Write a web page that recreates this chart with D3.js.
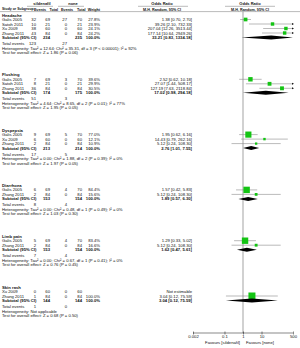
<!DOCTYPE html>
<html>
<head>
<meta charset="utf-8">
<script src="https://cdnjs.cloudflare.com/ajax/libs/d3/7.8.5/d3.min.js"></script>
<style>
  body { margin: 0; background: #fff; }
  text { font-family: "Liberation Sans", Arial, sans-serif; fill: #111; }
</style>
</head>
<body>
<div id="forest"></div>
<script>
// subgroups
const groupNames = ["Headache", "Flushing", "Dyspepsia", "Diarrhoea", "Limb pain", "Skin rash"];

// studies (index into groupNames)
const studyGroup = [0, 0, 0, 0, 1, 1, 1, 2, 2, 2, 3, 3, 4, 4, 5, 5];
const studyName = ["Galis 2005", "Satoh 2011", "Xu 2009", "Zhang 2011",
                   "Galis 2005", "Satoh 2011", "Zhang 2011",
                   "Galis 2005", "Xu 2009", "Zhang 2011",
                   "Galis 2005", "Zhang 2011",
                   "Galis 2005", "Zhang 2011",
                   "Xu 2009", "Zhang 2011"];
const silEvents  = [32, 10, 38, 43,  7, 8, 36,  9, 6, 2,  6, 2,  5, 2,  0, 1];
const silTotal   = [69, 21, 60, 84,  69, 21, 84,  69, 60, 84,  69, 84,  69, 84,  60, 84];
const noneEvents = [27, 0, 0, 0,  3, 0, 0,  5, 0, 0,  4, 0,  4, 0,  0, 0];
const noneTotal  = [70, 21, 60, 84,  70, 21, 84,  70, 60, 84,  70, 84,  70, 84,  60, 84];
const weights    = [27.8, 23.9, 24.1, 24.2,  39.6, 29.9, 30.5,  77.0, 12.1, 10.9,  84.4, 15.6,  83.4, 16.6,  null, 100.0];
const orVal = [1.38, 39.26, 207.04, 177.14,  2.52, 27.07, 127.19,  1.95, 14.43, 5.12,  1.57, 5.12,  1.29, 5.12,  null, 3.04];
const orLo  = [0.70, 2.10, 12.26, 10.64,  0.62, 1.44, 7.63,  0.62, 0.79, 0.24,  0.42, 0.24,  0.33, 0.24,  null, 0.12];
const orHi  = [2.70, 732.33, 3513.44, 2949.26,  10.18, 508.17, 2118.84,  6.16, 262.16, 108.30,  5.83, 108.30,  5.02, 108.30,  null, 75.59];

// subgroup totals
const subSilTotal   = [234, 174, 213, 153, 153, 144];
const subNoneTotal  = [235, 175, 214, 154, 154, 144];
const subOr  = [33.21, 17.02, 2.76, 1.89, 1.62, 3.04];
const subLo  = [0.83, 0.98, 1.01, 0.57, 0.47, 0.12];
const subHi  = [1334.18, 294.18, 7.55, 6.30, 5.61, 75.59];
const totSilEvents  = [123, 51, 17, 8, 7, 1];
const totNoneEvents = [27, 3, 5, 4, 4, 0];
const hetText = [
  "Heterogeneity: Tau² = 12.64; Chi² = 35.31, df = 3 (P < 0.00001); I² = 92%",
  "Heterogeneity: Tau² = 4.64; Chi² = 8.65, df = 2 (P = 0.01); I² = 77%",
  "Heterogeneity: Tau² = 0.00; Chi² = 1.88, df = 2 (P = 0.39); I² = 0%",
  "Heterogeneity: Tau² = 0.00; Chi² = 0.48, df = 1 (P = 0.49); I² = 0%",
  "Heterogeneity: Tau² = 0.00; Chi² = 0.67, df = 1 (P = 0.41); I² = 0%",
  "Heterogeneity: Not applicable"];
const testText = [
  "Test for overall effect: Z = 1.86 (P = 0.06)",
  "Test for overall effect: Z = 1.95 (P = 0.05)",
  "Test for overall effect: Z = 1.97 (P = 0.05)",
  "Test for overall effect: Z = 1.03 (P = 0.30)",
  "Test for overall effect: Z = 0.76 (P = 0.45)",
  "Test for overall effect: Z = 0.68 (P = 0.50)"];

// axis
const axisTicks = [0.002, 0.1, 1, 10, 500];
const axisTickLabels = ["0.002", "0.1", "1", "10", "500"];

function main() {
    const width = 300, height = 348;
    const fs = 4.2;          // font size
    const L = 4.5;           // row step
    const gapTot = 1.5;      // extra gap before "Total events"
    const gapGroup = 22.3;   // blank after each subgroup
    const firstY = 15;
    const axisY = 333;

    const fmt = d3.format(".2f");

    const svg = d3.select("#forest")
        .append("svg")
        .attr("width", width)
        .attr("height", height)
        .style("display", "block");

    svg.append("rect").attr("width", width).attr("height", height).attr("fill", "#fff");

    // columns (right edges unless noted)
    const col = {name: 2, e1: 36, n1: 50, e2: 67, n2: 82, w: 100, ci: 192};

    const xScale = d3.scaleLog()
        .domain([0.002, 500])
        .range([193, 293]);

    function txt(x, y, s, anchor, bold, size) {
        return svg.append("text")
            .attr("x", x)
            .attr("y", y + (size || fs) * 0.36)
            .attr("text-anchor", anchor || "start")
            .attr("font-size", size || fs)
            .attr("font-weight", bold ? "bold" : "normal")
            .text(s);
    }

    // header
    const hs = 4.0;
    txt(42, 3.5, "sildenafil", "middle", true, hs);
    txt(73, 3.5, "none", "middle", true, hs);
    txt(162, 3.5, "Odds Ratio", "middle", true, hs);
    txt(250, 3.5, "Odds Ratio", "middle", true, hs);
    txt(col.name, 9.2, "Study or Subgroup", "start", true, 3.5);
    txt(46, 9.2, "Events", "end", true, 3.7);
    txt(58, 9.2, "Total", "end", true, 3.7);
    txt(73, 9.2, "Events", "end", true, 3.7);
    txt(85.5, 9.2, "Total", "end", true, 3.7);
    txt(col.w, 9.2, "Weight", "end", true, 3.7);
    txt(162, 9.2, "M-H, Random, 95% CI", "middle", true, 3.7);
    txt(250, 9.2, "M-H, Random, 95% CI", "middle", true, 3.7);

    const hdrLines = [[27, 53, 6.3], [58, 84, 6.3], [138, 188, 6.3], [225, 275, 6.3], [0, 300, 11.6]];
    hdrLines.forEach(function(l) {
        svg.append("line")
            .attr("x1", l[0]).attr("x2", l[1])
            .attr("y1", l[2]).attr("y2", l[2])
            .attr("stroke", "#777").attr("stroke-width", 0.5);
    });

    // line of no effect
    svg.append("line")
        .attr("x1", xScale(1)).attr("x2", xScale(1))
        .attr("y1", 11.6).attr("y2", axisY)
        .attr("stroke", "#666").attr("stroke-width", 0.6);

    const [xmin, xmax] = xScale.range();

    let y = firstY;
    groupNames.forEach(function(g, gi) {
        txt(col.name, y, g, "start", true);

        const idx = d3.range(studyName.length).filter(i => studyGroup[i] === gi);
        idx.forEach(function(i) {
            y += L;
            txt(col.name, y, studyName[i]);
            txt(col.e1, y, silEvents[i], "end");
            txt(col.n1, y, silTotal[i], "end");
            txt(col.e2, y, noneEvents[i], "end");
            txt(col.n2, y, noneTotal[i], "end");
            if (weights[i] === null) {
                txt(col.ci, y, "Not estimable", "end");
                return;
            }
            txt(col.w, y, weights[i].toFixed(1) + "%", "end");
            txt(col.ci, y, fmt(orVal[i]) + " [" + fmt(orLo[i]) + ", " + fmt(orHi[i]) + "]", "end");

            // CI line
            const x1 = Math.max(xmin, xScale(orLo[i]));
            const x2 = Math.min(xmax, xScale(orHi[i]));
            svg.append("line")
                .attr("x1", x1).attr("x2", x2)
                .attr("y1", y).attr("y2", y)
                .attr("stroke", "#8c8c8c").attr("stroke-width", 0.6);
            if (orHi[i] > 500) {
                svg.append("path")
                    .attr("d", `M${xmax + 1},${y} L${xmax - 1},${y - 1} L${xmax - 1},${y + 1} Z`)
                    .attr("fill", "#111");
            }
            // weight square
            const s = 7 * Math.sqrt(weights[i] / 100);
            svg.append("rect")
                .attr("x", xScale(orVal[i]) - s / 2)
                .attr("y", y - s / 2)
                .attr("width", s).attr("height", s)
                .attr("fill", "#13c413");
        });

        // subtotal
        y += L;
        txt(col.name, y, "Subtotal (95% CI)", "start", true);
        txt(col.n1, y, subSilTotal[gi], "end", true);
        txt(col.n2, y, subNoneTotal[gi], "end", true);
        txt(col.w, y, "100.0%", "end", true);
        txt(col.ci, y, fmt(subOr[gi]) + " [" + fmt(subLo[gi]) + ", " + fmt(subHi[gi]) + "]", "end", true);
        const dl = Math.max(xmin, xScale(subLo[gi]));
        const dr = Math.min(xmax, xScale(subHi[gi]));
        const dc = xScale(subOr[gi]);
        svg.append("path")
            .attr("d", `M${dl},${y} L${dc},${y - 2} L${dr},${y} L${dc},${y + 2} Z`)
            .attr("fill", "#000");

        y += L + gapTot;
        txt(col.name, y, "Total events");
        txt(col.e1, y, totSilEvents[gi], "end");
        txt(col.e2, y, totNoneEvents[gi], "end");
        y += L;
        txt(col.name, y, hetText[gi]);
        y += L;
        txt(col.name, y, testText[gi]);
        y += gapGroup;
    });

    // axis
    const axisG = svg.append("g")
        .attr("transform", `translate(0, ${axisY})`)
        .call(d3.axisBottom(xScale)
            .tickValues(axisTicks)
            .tickFormat((d, i) => axisTickLabels[i])
            .tickSize(1.5)
            .tickPadding(1));
    axisG.select(".domain").attr("stroke", "#111").attr("stroke-width", 0.5)
        .attr("d", `M${xmin},0H${xmax}`);
    axisG.selectAll(".tick line").attr("stroke", "#111").attr("stroke-width", 0.5)
        .attr("y1", -1.5).attr("y2", 1.5);
    axisG.selectAll(".tick text")
        .attr("font-size", fs)
        .attr("font-family", "Liberation Sans, Arial, sans-serif")
        .attr("fill", "#111");

    txt(xScale(1) - 3, axisY + 9, "Favours [sildenafil]", "end");
    txt(xScale(1) + 3, axisY + 9, "Favours [none]", "start");
}

main();
</script>
</body>
</html>
